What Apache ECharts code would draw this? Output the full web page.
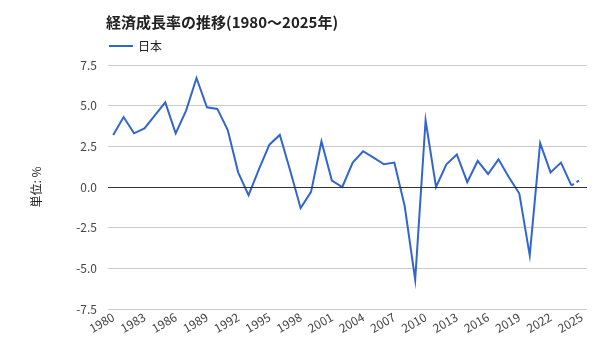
<!DOCTYPE html>
<html><head><meta charset="utf-8">
<script src="https://cdn.jsdelivr.net/npm/echarts@6/dist/echarts.min.js"></script>
<style>html,body{margin:0;padding:0;background:#fff}#c{width:600px;height:360px}</style>
</head><body><div id="c"></div>
<script>
const titleText = '経済成長率の推移(1980～2025年)';
const seriesName = '日本';
const yAxisName = '単位: %';
const years = ['1980','1981','1982','1983','1984','1985','1986','1987','1988','1989',
  '1990','1991','1992','1993','1994','1995','1996','1997','1998','1999',
  '2000','2001','2002','2003','2004','2005','2006','2007','2008','2009',
  '2010','2011','2012','2013','2014','2015','2016','2017','2018','2019',
  '2020','2021','2022','2023','2024','2025'];
const growth = [3.2,4.3,3.3,3.6,4.4,5.2,3.3,4.7,6.7,4.9,
  4.8,3.5,0.9,-0.5,1.1,2.6,3.2,1.0,-1.3,-0.3,
  2.8,0.4,0.0,1.5,2.2,1.8,1.4,1.5,-1.2,-5.7,
  4.1,0.0,1.4,2.0,0.3,1.6,0.8,1.7,0.6,-0.4,
  -4.2,2.7,0.9,1.5,0.1,0.5];
const forecastFrom = 44; // 2024 -> 2025 drawn dashed
const yMin = -7.5, yMax = 7.5, yStep = 2.5;

const solid = growth.map((v,i)=> i<=forecastFrom ? v : null);
const dashed = growth.map((v,i)=> i>=forecastFrom ? v : null);
const FONT = '"Noto Sans CJK JP","Noto Sans",sans-serif';

const chart = echarts.init(document.getElementById('c'), null, {renderer:'canvas'});
chart.setOption({
  animation:false,
  textStyle:{fontFamily:FONT},
  title:{text:titleText,left:101,top:10,textStyle:{fontSize:15,fontWeight:'bold',color:'#222',fontFamily:FONT}},
  legend:{left:104,top:35,icon:'rect',itemWidth:24,itemHeight:2,itemGap:6,
    data:[seriesName],textStyle:{fontSize:12,color:'#222',fontFamily:FONT}},
  grid:{left:108,right:13,top:65,bottom:51},
  xAxis:{type:'category',data:years,boundaryGap:true,
    axisLine:{show:false,onZero:false},axisTick:{show:false},
    axisLabel:{interval:2,rotate:30,color:'#444',fontSize:12,margin:7,fontFamily:FONT},
    splitLine:{show:false}},
  yAxis:{type:'value',min:yMin,max:yMax,interval:yStep,
    name:yAxisName,nameLocation:'middle',nameGap:66,nameRotate:90,
    nameTextStyle:{color:'#222',fontSize:12,fontFamily:FONT},
    axisLine:{show:false},axisTick:{show:false},
    axisLabel:{color:'#444',fontSize:12,margin:11,formatter:v=>v.toFixed(1),fontFamily:FONT},
    splitLine:{lineStyle:{color:'#cccccc',width:1}}},
  series:[
    {name:seriesName,type:'line',data:solid,symbol:'none',
     lineStyle:{color:'#3366cc',width:2,join:'miter',miterLimit:10},itemStyle:{color:'#3366cc'},
     markLine:{silent:true,symbol:'none',label:{show:false},animation:false,
       lineStyle:{color:'#333',width:1,type:'solid'},data:[{yAxis:0}]}},
    {name:seriesName,type:'line',data:dashed,symbol:'none',
     lineStyle:{color:'#3366cc',width:2,type:[3,3]},itemStyle:{color:'#3366cc'}}
  ]
});
</script></body></html>
